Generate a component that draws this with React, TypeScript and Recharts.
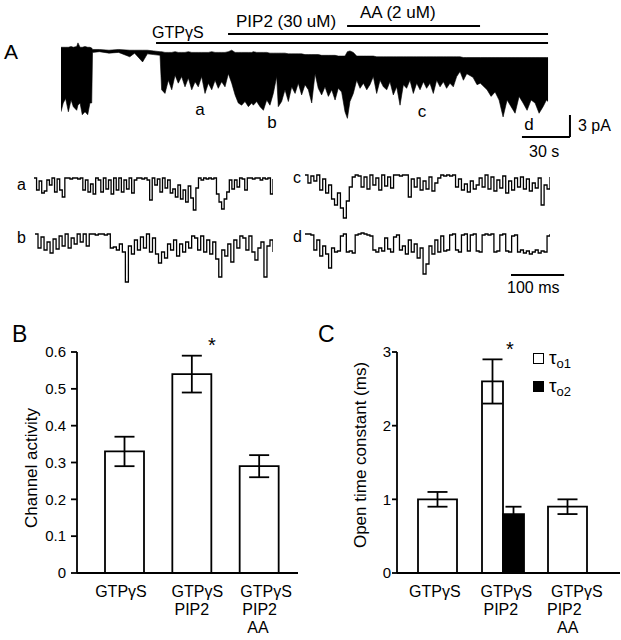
import React from 'react';
import {
  AreaChart, Area, XAxis, YAxis, ReferenceLine, LineChart, Line,
  BarChart, Bar, ErrorBar, LabelList, Legend, Label,
} from 'recharts';

const FONT = '"Liberation Sans", Arial, Helvetica, sans-serif';

// ---------- Panel A: long recording (time s, top pA, bottom pA) ----------
const traceRows: [number, number, number][] = [
  [0, 0.1, -8.7], [1.4, 0.1, -7.5], [2.9, 0.1, -6.9], [4.6, 0.1, -8.7], [6.3, 0.2, -7.1],
  [7.7, 0.1, -8.0], [9.8, 0.2, -8.5], [10.6, 0.7, -7.8], [11.9, 0.1, -7.5], [13.3, 0.1, -9.1],
  [15, 0.2, -8.7], [16.7, 0.1, -9.1], [18.1, 0.1, -7.5], [19.2, 0.0, -7.5], [19.7, -0.2, -0.6],
  [24, -0.2, -0.5], [30, -0.3, -0.7], [36, -0.2, -0.6], [43, -0.3, -1.2], [46, -0.3, -0.7],
  [51, -0.3, -1.9], [54, -0.3, -0.8], [58, -0.4, -0.9], [61.9, -0.5, -1.0], [62.9, -0.5, -5.7],
  [65, -0.6, -6.2], [67.1, -0.6, -4.4], [69.2, -0.6, -5.7], [71.3, -0.5, -3.7], [73.3, -0.6, -4.8],
  [75.4, -0.6, -3.9], [77.5, -0.6, -5.3], [79.6, -0.5, -4.1], [81.7, -0.6, -5.7], [83.8, -0.6, -4.6],
  [85.8, -0.6, -5.3], [87.9, -0.6, -3.9], [90, -0.6, -6.2], [92.1, -0.6, -4.8], [94.2, -0.5, -5.7],
  [96.3, -0.6, -4.4], [98.3, -0.6, -5.5], [100.4, -0.6, -4.6], [102.5, -0.6, -5.3], [104.6, -0.5, -3.5],
  [106.7, -0.3, -4.8], [108.8, -0.6, -6.4], [110.8, -0.6, -7.5], [112.9, -0.6, -7.8], [115, -0.6, -7.3],
  [117.1, -0.6, -8.0], [119.2, -0.6, -7.5], [120.2, -0.5, -7.8], [122.3, -0.6, -7.3], [124.4, -0.6, -8.0],
  [126.5, -0.6, -8.5], [128.6, -0.6, -7.1], [130.6, -0.7, -7.8], [132.7, -0.7, -6.2], [134.8, -0.7, -3.9],
  [135.8, -0.7, -8.0], [137.9, -0.7, -7.3], [140, -0.7, -5.7], [142.1, -0.8, -7.3], [144.2, -0.8, -5.3],
  [146.3, -0.8, -6.2], [148.3, -0.8, -4.8], [150.4, -0.8, -6.4], [152.5, -0.9, -5.0], [154.6, -0.9, -5.7],
  [156.7, -0.9, -7.5], [158.8, -0.9, -3.5], [160.8, -0.9, -5.5], [162.9, -1.0, -6.4], [165, -1.0, -5.3],
  [167.1, -1.0, -6.6], [169.2, -1.0, -5.7], [171.3, -1.0, -7.1], [173.3, -1.1, -5.5], [175.4, -1.1, -6.0],
  [177.5, -1.1, -8.7], [179, -0.5, -9.6], [180.6, -0.4, -7.3], [182.7, -0.6, -6.2], [184.8, -1.1, -4.4],
  [186.9, -1.1, -5.5], [189, -1.1, -4.8], [191.1, -1.1, -5.7], [193.1, -1.1, -5.0], [195.2, -1.1, -3.9],
  [197.3, -1.2, -6.2], [199.4, -1.2, -4.4], [201.5, -1.2, -5.3], [203.6, -1.2, -5.7], [205.6, -1.2, -4.6],
  [207.7, -1.2, -6.4], [209.8, -1.2, -5.3], [211.9, -1.2, -7.8], [214, -1.2, -5.0], [216, -1.2, -5.5],
  [218.1, -1.2, -4.4], [220.2, -1.2, -6.2], [222.3, -1.2, -4.8], [224.4, -1.2, -5.7], [226.5, -1.2, -4.6],
  [228.5, -1.2, -5.5], [230.6, -1.2, -4.8], [232.7, -1.2, -6.2], [234.8, -1.2, -4.4], [236.9, -1.2, -5.3],
  [239, -1.2, -4.6], [241, -1.2, -5.5], [243.1, -1.2, -4.8], [245.2, -1.2, -5.3], [247.3, -1.2, -3.9],
  [249.4, -1.2, -3.2], [251.5, -1.3, -4.4], [253.6, -1.3, -3.5], [257.5, -1.3, -4.0], [260, -1.3, -5.0],
  [262.1, -1.3, -4.8], [266.3, -1.3, -5.7], [268.8, -1.3, -6.6], [271.3, -1.3, -6.0], [273.8, -1.3, -7.1],
  [276.3, -1.3, -9.4], [278.8, -1.3, -7.1], [281.3, -1.3, -8.0], [283.8, -1.3, -8.9], [286.3, -1.3, -6.6],
  [288.8, -1.3, -7.5], [291.3, -1.3, -8.5], [293.8, -1.3, -7.1], [296.3, -1.3, -7.5], [298.8, -1.3, -8.9],
  [301.3, -1.3, -8.0], [303.4, -1.3, -7.1], [304.4, -1.3, -7.3],
];

// treatment periods (s)
const treatNames = ['GTPγS', 'PIP2 (30 uM)', 'AA (2 uM)'];
const treatStart = [59.4, 104.4, 178.8];
const treatEnd = [304.4, 304.4, 261.9];
// episode markers
const episodeNames = ['a', 'b', 'c', 'd'];

// scale bars
const scaleBarSec = 30;
const scaleBarPA = 3;
const scaleBarMs = 100;
const smallTraceMs = 450;

// ---------- expanded episodes (current, px-like units; 0 = closed) ----------
const epA = [0, -12, -3, -15, -13, -2, -7, 0, -14, -1, -12, -19, 0, 0, -1, 0, 0, -1, 0,
  -12, -2, -14, -6, -16, 0, -2, -14, 0, -11, -2, -16, 0, -12, 0, -14, -2, -11, 0, -15, -2,
  0, 0, -1, 0, -2, -22, 0, -7, -1, -14, 0, -10, -2, -15, -11, -19, -7, -21, -12, -24, -8, -20,
  -32, -10, 0, -2, 0, -1, 0, -1, 0, -16, -24, -31, -21, -14, -2, -11, -2, -9, 0,
  -1, -12, 0, 0, -1, 0, 0, -2, 0, -1, 0, -16, -1];
const epB = [0, -14, -3, -16, -8, -19, -5, -15, -2, -12, 0, -14, -4, -10, 0, -8, 0, -12,
  0, 0, -1, 0, 0, -1, 0, -14, -13, -16, -10, -18, -48, -12, -20, -6, -16, -3, -14, 0, -18, -4,
  -20, -29, -18, -24, -10, -16, -6, -22, -10, -18, -8, -14, -2, -4, -16, -2, -18, -6, -20, -8, -25,
  -43, -16, -22, -10, -28, -6, -14, -2, -4, -16, -2, -18, -26, -14, -8, -43, -12, -6, -18];
const epC = [0, -8, -1, -6, 0, -15, -4, -18, -10, -24, -30, -18, -33, -43, -26, -12, -2, 0,
  -1, -12, -2, -14, 0, -10, -3, -15, 0, -11, -2, -13, 0, 0, -1, 0, 0, -22, -4,
  -12, -3, -15, -6, -14, -2, -16, -8, -3, 0, -1, 0, -1, 0, -12, -4, -15, -9, -17, -6, -14, -10,
  -3, -12, 0, -14, -2, -16, -5, -13, -1, -18, -6, -15, -3, -12, -2, -14, -4, -16, -8, -13, -3, -30, -10, -14, -2];
const epD = [0, 0, -1, -16, -6, -22, -12, -20, -34, -14, -18, -17, -2, 0, -18, -17, -19, -1,
  0, 1, 0, -1, -2, -16, -18, -14, -17, -4, -15, -18, -3, -1, -16, -12, -20, -6, -18, -10,
  -24, -14, -40, -30, -12, -20, -6, -18, -2, -17, -16, -1, 0, -16, -18, -1, 0, -17, -1, 0, -17,
  -18, -1, 0, -1, 0, -18, -17, -1, 0, -17, -18, -2, -1, -18, -16, -19, -17, -20, -18, -16, -19, -17, -18, -2, 0];

// ---------- Panel B ----------
const catKeys = ['GTPγS', 'GTPγS PIP2', 'GTPγS PIP2 AA'];
const catLines = [['GTPγS'], ['GTPγS', 'PIP2'], ['GTPγS', 'PIP2', 'AA']];
const activity = [0.33, 0.54, 0.29];
const activityErr = [0.04, 0.05, 0.03];
const activitySig = [false, true, false];
const activityTicks = [0, 0.1, 0.2, 0.3, 0.4, 0.5, 0.6];

// ---------- Panel C ----------
const tau1 = [1.0, 2.6, 0.9];
const tau1Err = [0.1, 0.3, 0.1];
const tau2 = [null, 0.8, null] as (number | null)[];
const tau2Err = [null, 0.1, null] as (number | null)[];
const tauSig = [false, true, false];
const tauTicks = [0, 1, 2, 3];
const tauLegend = [
  { key: 'tau1', sub: 'o1', fill: '#fff' },
  { key: 'tau2', sub: 'o2', fill: '#000' },
];

// ---------- layout constants ----------
const SW = 1.8;
const treatLevels = [0.68, 1.91, 3.0];
const treatLabelPos = [
  { x: 152, y: 38, size: 16 },
  { x: 236, y: 27, size: 17 },
  { x: 360, y: 18, size: 17 },
];
const episodeLabelPos = [
  { x: 200, y: 115 }, { x: 272, y: 128 }, { x: 422, y: 117 }, { x: 529, y: 130 },
];
const scaleOrigin = { t: 288.1, pa: -12.14 };
const catOffsetsB = [[-29.5], [-20.5, -17.5], [-19, -17, -12]];
const catOffsetsC = [[-28.5], [-22, -19], [-16.5, -20.5, -10.5]];

const traceData = traceRows.map(([t, top, bottom]) => ({ t, range: [bottom, top] }));
const activityData = catKeys.map((c, i) => ({
  cat: c, value: activity[i], err: activityErr[i], sig: activitySig[i] ? 1 : 0,
}));
const tauData = catKeys.map((c, i) => ({
  cat: c,
  single: tau2[i] == null ? tau1[i] : null,
  singleErr: tau2[i] == null ? tau1Err[i] : null,
  pair1: tau2[i] != null ? tau1[i] : null,
  pair1Err: tau2[i] != null ? tau1Err[i] : null,
  pair2: tau2[i],
  pair2Err: tau2Err[i],
  sig: tauSig[i] ? 1 : 0,
}));

function makeCatTick(offsets: number[][]) {
  return (props: any) => {
    const { x, y, index } = props;
    const lines = catLines[index] || [];
    return (
      <g>
        {lines.map((ln, j) => (
          <text key={j} x={x + offsets[index][j]} y={y + 24 + 18 * j} textAnchor="start"
            fontSize={16} fontFamily={FONT} fill="#000">{ln}</text>
        ))}
      </g>
    );
  };
}

function makeStar(dx: number, dy: number) {
  return (props: any) => {
    const { x, y, width, value } = props;
    if (!value) return null;
    return (
      <text x={Number(x) + Number(width) + dx} y={Number(y) + dy} textAnchor="middle"
        fontSize={20} fontFamily={FONT} fill="#000">*</text>
    );
  };
}

function SmallTrace({ values, left, top, width }: { values: number[]; left: number; top: number; width: number }) {
  const data = values.map((v, i) => ({ i, v }));
  return (
    <div style={{ position: 'absolute', left, top }}>
      <LineChart width={width} height={57} data={data} margin={{ top: 0, right: 0, bottom: 0, left: 0 }}>
        <XAxis dataKey="i" hide height={0} />
        <YAxis domain={[-50, 7]} hide width={0} allowDataOverflow />
        <Line dataKey="v" type="stepAfter" stroke="#000" strokeWidth={1.3} dot={false}
          isAnimationActive={false} />
      </LineChart>
    </div>
  );
}

const TauLegend = () => (
  <div style={{ fontFamily: FONT, color: '#000' }}>
    {tauLegend.map((s) => (
      <div key={s.key} style={{ display: 'flex', alignItems: 'center', height: 28 }}>
        <div style={{ width: 11, height: 11, boxSizing: 'border-box', border: '1.5px solid #000', background: s.fill }} />
        <div style={{ marginLeft: 5, fontSize: 19, lineHeight: '19px', whiteSpace: 'nowrap' }}>
          τ<span style={{ fontSize: 13, position: 'relative', top: 4 }}>{s.sub}</span>
        </div>
      </div>
    ))}
  </div>
);

export default function App() {
  const smallW = 239;
  const msBarPx = (scaleBarMs / smallTraceMs) * smallW;
  return (
    <div style={{ position: 'absolute', left: 0, top: 0, width: 621, height: 640, background: '#fff', fontFamily: FONT }}>
      {/* Panel A main trace */}
      <div style={{ position: 'absolute', left: 0, top: 0 }}>
        <AreaChart width={621} height={160} data={traceData} margin={{ top: 0, right: 0, bottom: 0, left: 61 }}>
          <XAxis type="number" dataKey="t" domain={[0, 350]} hide height={0} allowDataOverflow />
          <YAxis type="number" domain={[-15.28, 6.55]} hide width={0} allowDataOverflow />
          <Area dataKey="range" type="linear" stroke="#000" strokeWidth={0.6} fill="#000" fillOpacity={1}
            isAnimationActive={false} dot={false} activeDot={false} />
          {treatNames.map((n, i) => (
            <ReferenceLine key={n} segment={[{ x: treatStart[i], y: treatLevels[i] }, { x: treatEnd[i], y: treatLevels[i] }]}
              stroke="#000" strokeWidth={2} />
          ))}
          <ReferenceLine segment={[{ x: scaleOrigin.t, y: scaleOrigin.pa }, { x: scaleOrigin.t + scaleBarSec, y: scaleOrigin.pa }]}
            stroke="#000" strokeWidth={2} />
          <ReferenceLine segment={[{ x: scaleOrigin.t + scaleBarSec, y: scaleOrigin.pa }, { x: scaleOrigin.t + scaleBarSec, y: scaleOrigin.pa + scaleBarPA }]}
            stroke="#000" strokeWidth={2} />
        </AreaChart>
      </div>

      {/* expanded episodes */}
      <SmallTrace values={epA} left={34} top={171} width={239} />
      <SmallTrace values={epB} left={35} top={227} width={238} />
      <SmallTrace values={epC} left={305} top={168} width={245} />
      <SmallTrace values={epD} left={305} top={227} width={245} />

      {/* Panel B */}
      <div style={{ position: 'absolute', left: 0, top: 300 }}>
        <BarChart width={310} height={340} data={activityData} margin={{ top: 52, right: 12, bottom: 7, left: 17 }}>
          <XAxis dataKey="cat" interval={0} tickLine={false} tickSize={0} tickMargin={0} height={60}
            padding={{ left: 14, right: 5 }} axisLine={{ stroke: '#000', strokeWidth: SW }}
            tick={makeCatTick(catOffsetsB)} />
          <YAxis domain={[0, 0.6]} ticks={activityTicks} width={60} tickSize={6} tickMargin={5}
            axisLine={{ stroke: '#000', strokeWidth: SW }} tickLine={{ stroke: '#000', strokeWidth: SW }}
            tick={{ fill: '#000', fontSize: 15, fontFamily: FONT }} allowDataOverflow>
            <Label content={() => (
              <text transform="rotate(-90)" x={-168} y={37} textAnchor="middle" fontSize={17}
                fontFamily={FONT} fill="#000">Channel activity</text>
            )} />
          </YAxis>
          <Bar dataKey="value" fill="#fff" stroke="#000" strokeWidth={SW} barSize={39} isAnimationActive={false}>
            <ErrorBar dataKey="err" width={10} stroke="#000" strokeWidth={SW} direction="y" />
            <LabelList dataKey="sig" content={makeStar(0.5, -22.6)} />
          </Bar>
        </BarChart>
      </div>

      {/* Panel C */}
      <div style={{ position: 'absolute', left: 310, top: 300 }}>
        <BarChart width={311} height={340} data={tauData} barGap={0} margin={{ top: 52, right: 1, bottom: 7, left: 27 }}>
          <XAxis xAxisId="single" dataKey="cat" interval={0} tickLine={false} tickSize={0} tickMargin={0} height={60}
            padding={{ left: 8, right: 20 }} axisLine={{ stroke: '#000', strokeWidth: SW }}
            tick={makeCatTick(catOffsetsC)} />
          <XAxis xAxisId="pair" dataKey="cat" hide height={0} padding={{ left: 8, right: 20 }} />
          <YAxis domain={[0, 3]} ticks={tauTicks} width={60} tickSize={5} tickMargin={1}
            axisLine={{ stroke: '#000', strokeWidth: SW }} tickLine={{ stroke: '#000', strokeWidth: SW }}
            tick={{ fill: '#000', fontSize: 15, fontFamily: FONT }} allowDataOverflow>
            <Label content={() => (
              <text transform="rotate(-90)" x={-155} y={55.5} textAnchor="middle" fontSize={17}
                fontFamily={FONT} fill="#000">Open time constant (ms)</text>
            )} />
          </YAxis>
          <Bar xAxisId="single" dataKey="single" fill="#fff" stroke="#000" strokeWidth={SW} barSize={39} isAnimationActive={false}>
            <ErrorBar dataKey="singleErr" width={10} stroke="#000" strokeWidth={SW} direction="y" />
          </Bar>
          <Bar xAxisId="pair" dataKey="pair1" fill="#fff" stroke="#000" strokeWidth={SW} barSize={21} isAnimationActive={false}>
            <ErrorBar dataKey="pair1Err" width={10} stroke="#000" strokeWidth={SW} direction="y" />
            <LabelList dataKey="sig" content={makeStar(7, -25.5)} />
          </Bar>
          <Bar xAxisId="pair" dataKey="pair2" fill="#000" stroke="#000" strokeWidth={SW} barSize={21} isAnimationActive={false}>
            <ErrorBar dataKey="pair2Err" width={8} stroke="#000" strokeWidth={SW} direction="y" />
          </Bar>
          <Legend content={TauLegend} layout="vertical" align="center" verticalAlign="middle"
            wrapperStyle={{ left: 223, top: 44, width: 80, right: 'auto', bottom: 'auto' }} />
        </BarChart>
      </div>

      {/* text annotations */}
      <svg width={621} height={640} style={{ position: 'absolute', left: 0, top: 0, pointerEvents: 'none' }}
        fontFamily={FONT} fill="#000">
        <text x={4} y={59} fontSize={21}>A</text>
        <text x={12} y={342} fontSize={23}>B</text>
        <text x={318} y={342} fontSize={23}>C</text>
        {treatNames.map((n, i) => (
          <text key={n} x={treatLabelPos[i].x} y={treatLabelPos[i].y} fontSize={treatLabelPos[i].size}>{n}</text>
        ))}
        {episodeNames.map((n, i) => (
          <text key={n} x={episodeLabelPos[i].x} y={episodeLabelPos[i].y} fontSize={17} textAnchor="middle">{n}</text>
        ))}
        <text x={578} y={131} fontSize={16}>{`${scaleBarPA} pA`}</text>
        <text x={529} y={157} fontSize={16}>{`${scaleBarSec} s`}</text>
        <text x={17} y={190} fontSize={16}>a</text>
        <text x={17} y={243} fontSize={16}>b</text>
        <text x={293} y={183} fontSize={16}>c</text>
        <text x={293} y={242} fontSize={16}>d</text>
        <line x1={511} x2={511 + msBarPx} y1={275} y2={275} stroke="#000" strokeWidth={2} />
        <text x={507} y={293} fontSize={16}>{`${scaleBarMs} ms`}</text>
      </svg>
    </div>
  );
}
